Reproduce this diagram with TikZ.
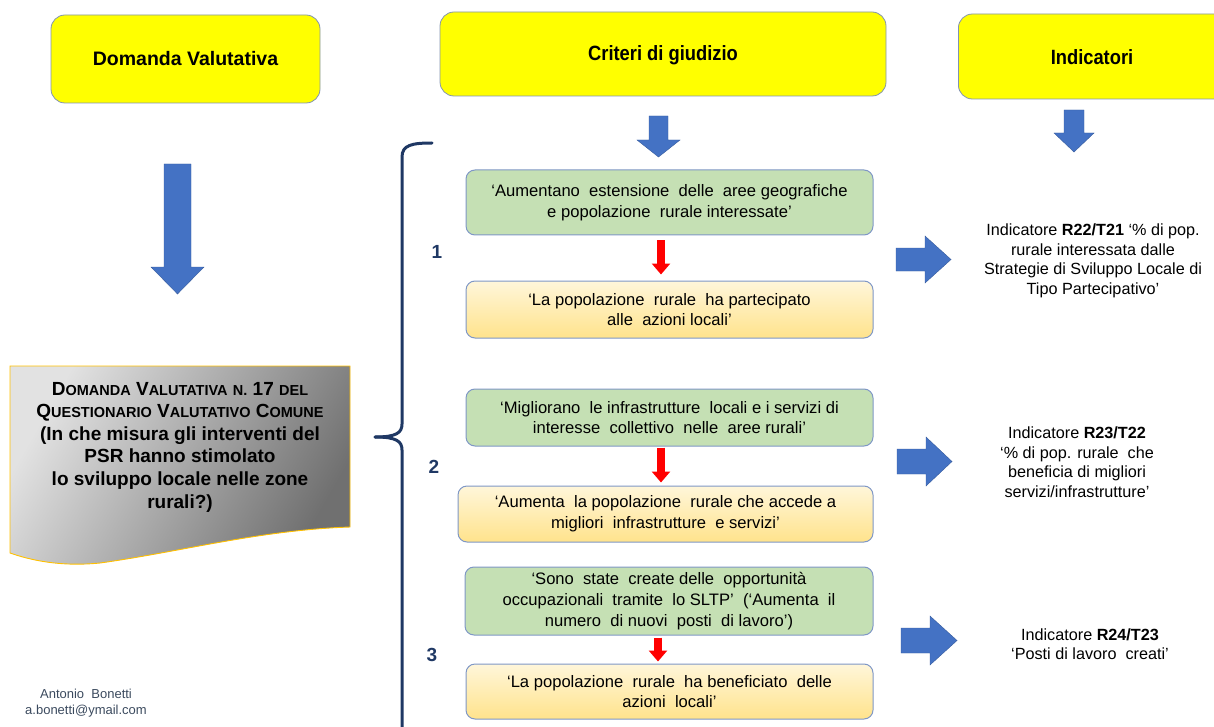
\documentclass[tikz,border=0pt]{standalone}
\usepackage{fontspec}
\setmainfont{Liberation Sans}
\usetikzlibrary{arrows.meta}
\definecolor{hdryellow}{HTML}{FFFF00}
\definecolor{hdrborder}{HTML}{8394B0}
\definecolor{bluearr}{HTML}{4472C4}
\definecolor{navy}{HTML}{1F3864}
\definecolor{greenfill}{HTML}{C5E0B4}
\definecolor{boxborder}{HTML}{7F97C6}
\definecolor{ylight}{HTML}{FFF6DA}
\definecolor{ydark}{HTML}{FFE38C}
\definecolor{docborder}{HTML}{FFC000}
\definecolor{doclight}{HTML}{E2E2E2}
\definecolor{docdark}{HTML}{707070}
\definecolor{authorc}{HTML}{3B4A5E}
\newcommand{\scw}[2]{{\fontsize{19}{22}\selectfont #1}{\fontsize{14.5}{22}\selectfont #2}}
\tikzset{
  header/.style={draw=hdrborder, line width=0.8pt, fill=hdryellow, rounded corners=14pt},
  hdrtext/.style={font=\bfseries\fontsize{19.5}{22}\selectfont},
  greenbox/.style={draw=boxborder, line width=1pt, fill=greenfill, rounded corners=9pt, align=center,
     font=\fontsize{16.6}{20.8}\selectfont, inner sep=0pt},
  yellowbox/.style={draw=boxborder, line width=1pt, rounded corners=9pt, align=center,
     top color=ylight, bottom color=ydark, font=\fontsize{16.6}{20.8}\selectfont, inner sep=0pt},
  blockarrow/.style={fill=bluearr, draw=bluearr!80!black, line width=0.4pt},
  redarr/.style={draw=red, line width=8pt, -{Triangle[width=18pt,length=11pt]}},
  numlabel/.style={text=navy, font=\bfseries\fontsize{19}{22}\selectfont},
  indtext/.style={align=center, font=\fontsize{16.2}{19.5}\selectfont},
}
\begin{document}
\begin{tikzpicture}[x=1pt,y=-1pt]
\useasboundingbox (0,0) rectangle (1214,727);

% headers
\node[header, minimum width=269pt, minimum height=88pt] (h1) at (185.5,59) {};
\node[hdrtext] at (h1.center) {Domanda Valutativa};
\node[header, minimum width=446pt, minimum height=84pt] (h2) at (663,54) {};
\node[hdrtext] at (663,55) {\scalebox{0.94}[1.06]{Criteri di giudizio}};
\node[header, minimum width=275pt, minimum height=85pt, anchor=west] (h3) at (958,56.5) {};
\node[hdrtext] at (1092,57) {\scalebox{0.94}[1.06]{Indicatori}};

% blue down arrows
\path[blockarrow] (164,164) -- (191,164) -- (191,267) -- (204,267) -- (177.5,294) -- (151,267) -- (164,267) -- cycle;
\path[blockarrow] (649,116) -- (668,116) -- (668,140) -- (680,140) -- (658.5,157) -- (637,140) -- (649,140) -- cycle;
\path[blockarrow] (1064,110) -- (1084,110) -- (1084,133) -- (1094,133) -- (1074,152) -- (1054,133) -- (1064,133) -- cycle;

% document shape
\path[shading=axis, left color=doclight, right color=docdark, shading angle=60]
  (10,366) -- (350,366) -- (350,527) .. controls (260,530) and (180,552) .. (100,563)
  .. controls (60,567) and (30,560) .. (10,553) -- cycle;
\draw[docborder, line width=0.9pt]
  (10,366) -- (350,366) -- (350,527) .. controls (260,530) and (180,552) .. (100,563)
  .. controls (60,567) and (30,560) .. (10,553) -- cycle;
\node[align=center, font=\bfseries\fontsize{19}{22.6}\selectfont] (doc) at (180,447) {%
  \scw{D}{OMANDA} \scw{V}{ALUTATIVA} \scw{}{N.} 17 \scw{}{DEL}\\
  \scw{Q}{UESTIONARIO} \scw{V}{ALUTATIVO} \scw{C}{OMUNE}\\
  (In che misura gli interventi del\\
  PSR hanno stimolato\\
  lo sviluppo locale nelle zone\\
  rurali?)};

% brace
\draw[navy, line width=3pt, line cap=round]
  (432,143) .. controls (412,143) and (402,145) .. (402,157) -- (402,424)
  .. controls (402,433) and (396,437) .. (375,437);
\draw[navy, line width=3pt, line cap=round]
  (375,437) .. controls (396,437) and (402,441) .. (402,450) -- (402,730);

% numbers
\node[numlabel] (n1) at (437,252) {1};
\node[numlabel] (n2) at (434,467) {2};
\node[numlabel] (n3) at (432,655) {3};

% criteria boxes
\node[greenbox, minimum width=407pt, minimum height=65pt] (g1) at (669.5,202.5)
  {‘Aumentano\ \ estensione\ \ delle\ \ aree geografiche\\ e popolazione\ \ rurale\ interessate’};
\node[yellowbox, minimum width=407pt, minimum height=57pt] (y1) at (669.5,309.5)
  {‘La popolazione\ \ rurale\ \ ha\ partecipato\\ alle\ \ azioni\ locali’};
\node[greenbox, minimum width=407pt, minimum height=57pt] (g2) at (669.5,417.5)
  {‘Migliorano\ \ le infrastrutture\ \ locali\ e i servizi\ di\\ interesse\ \ collettivo\ \ nelle\ \ aree\ rurali’};
\node[yellowbox, minimum width=415pt, minimum height=56pt] (y2) at (665.5,514)
  {‘Aumenta\ \ la popolazione\ \ rurale\ che\ accede\ a\\ migliori\ \ infrastrutture\ \ e servizi’};
\node[greenbox, minimum width=408pt, minimum height=68pt] (g3) at (669,601)
  {‘Sono\ \ state\ \ create\ delle\ \ opportunità\\ occupazionali\ \ tramite\ \ lo\ SLTP’\ \ (‘Aumenta\ \ il\\ numero\ \ di nuovi\ \ posti\ \ di lavoro’)};
\node[yellowbox, minimum width=407pt, minimum height=55pt] (y3) at (669.5,691.5)
  {‘La popolazione\ \ rurale\ \ ha\ beneficiato\ \ delle\\ azioni\ \ locali’};

% red arrows
\coordinate (ra) at (661,0);
\coordinate (rb) at (658,0);
\draw[redarr, shorten <=5pt, shorten >=6pt] (g1.south -| ra) -- (y1.north -| ra);
\draw[redarr, shorten <=1pt, shorten >=3pt] (g2.south -| ra) -- (y2.north -| ra);
\draw[redarr, shorten <=2pt, shorten >=2pt] (g3.south -| rb) -- (y3.north -| rb);

% right block arrows
\path[blockarrow] (896,248) -- (925,248) -- (925,236) -- (951,259.5) -- (925,283) -- (925,271) -- (896,271) -- cycle;
\path[blockarrow] (897,449) -- (926,449) -- (926,437) -- (952,461.5) -- (926,486) -- (926,474) -- (897,474) -- cycle;
\path[blockarrow] (901,628) -- (930,628) -- (930,616) -- (957,640.5) -- (930,665) -- (930,653) -- (901,653) -- cycle;

% indicators
\node[indtext] (i1) at (1093,261) {Indicatore \textbf{R22/T21} ‘\% di pop.\\ rurale interessata dalle\\ Strategie di Sviluppo Locale di\\ Tipo Partecipativo’};
\node[indtext] (i2) at (1077,462) {Indicatore \textbf{R23/T22}\\ ‘\% di pop. rurale\ \ che\\ beneficia di migliori\\ servizi/infrastrutture’};
\node[indtext] (i3) at (1090,644) {Indicatore \textbf{R24/T23}\\ ‘Posti di lavoro\ \ creati’};

% author
\node[align=center, text=authorc, font=\fontsize{13}{16}\selectfont] (auth) at (86,703) {Antonio\ \ Bonetti\\ a.bonetti@ymail.com};
\end{tikzpicture}
\end{document}
